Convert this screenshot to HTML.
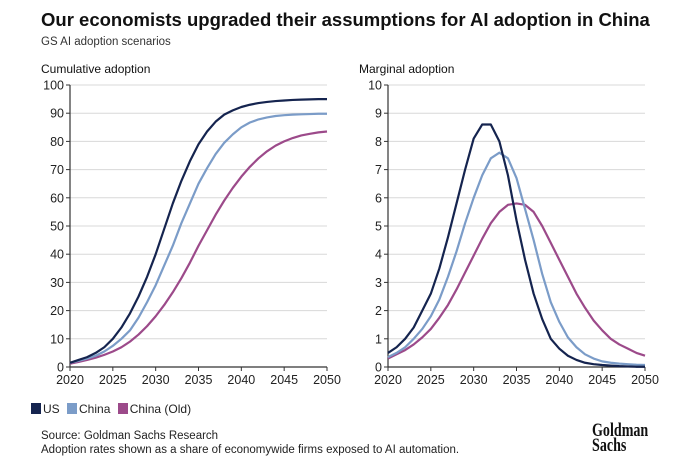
<!DOCTYPE html>
<html><head><meta charset="utf-8">
<style>
body{margin:0;background:#fff;font-family:"Liberation Sans",sans-serif;color:#222;}
#wrap{position:relative;width:700px;height:474px;overflow:hidden;background:#fff;}
.t{position:absolute;white-space:nowrap;}
</style></head><body>
<div id="wrap">
<div class="t" style="left:41px;top:9px;font-size:18.5px;font-weight:bold;color:#111;">Our economists upgraded their assumptions for AI adoption in China</div>
<div class="t" style="left:41px;top:36px;font-size:11.5px;color:#333;">GS AI adoption scenarios</div>
<svg id="svg" width="700" height="474" style="position:absolute;left:0;top:0"></svg>
<div class="t" style="left:31px;top:402px;font-size:12px;color:#222;">
<span><span style="display:inline-block;width:10px;height:11px;background:#15244f;vertical-align:-1px;margin-right:2px"></span>US</span>
<span style="margin-left:4px"><span style="display:inline-block;width:10px;height:11px;background:#7b9cc8;vertical-align:-1px;margin-right:2px"></span>China</span>
<span style="margin-left:4px"><span style="display:inline-block;width:10px;height:11px;background:#9c4a8a;vertical-align:-1px;margin-right:2px"></span>China (Old)</span>
</div>
<div class="t" style="left:41px;top:430px;font-size:11.5px;color:#222;">Source: Goldman Sachs Research</div>
<div class="t" style="left:41px;top:444px;font-size:11.5px;color:#222;">Adoption rates shown as a share of economywide firms exposed to AI automation.</div>
<div class="t" style="left:592px;top:423px;font-family:'Liberation Serif',serif;font-weight:bold;font-size:19px;line-height:15px;color:#111;transform:scaleX(0.74);transform-origin:left top;">Goldman<br>Sachs</div>
</div>
<script>
const years=[2020,2021,2022,2023,2024,2025,2026,2027,2028,2029,2030,2031,2032,2033,2034,2035,2036,2037,2038,2039,2040,2041,2042,2043,2044,2045,2046,2047,2048,2049,2050];
const cumUS=[1.5,2.5,3.5,5,7,10,14,19,25,32,40,49,58,66,73,79,83.5,87,89.5,91,92.2,93,93.6,94,94.3,94.5,94.7,94.8,94.9,95,95];
const cumChina=[1.5,2.2,3,4,5.5,7.5,10,13,17.5,23,29,36,43,51,58,65,70.5,75.5,79.5,82.5,85,86.7,87.8,88.5,89,89.3,89.5,89.6,89.7,89.8,89.8];
const cumChinaOld=[1.2,1.8,2.5,3.3,4.3,5.5,7,9,11.5,14.5,18,22,26.5,31.5,37,43,48.5,54,59,63.5,67.5,71,74,76.5,78.5,80,81.2,82.1,82.7,83.2,83.5];
const margUS=[0.5,0.7,1,1.4,2,2.6,3.5,4.6,5.8,7,8.1,8.6,8.6,8,6.8,5.2,3.8,2.6,1.7,1,0.65,0.4,0.25,0.15,0.1,0.07,0.05,0.03,0.02,0.01,0.01];
const margChina=[0.35,0.5,0.7,1,1.35,1.8,2.4,3.2,4.1,5.1,6,6.8,7.4,7.6,7.4,6.7,5.6,4.5,3.3,2.3,1.6,1.05,0.7,0.45,0.3,0.2,0.15,0.12,0.1,0.08,0.07];
const margChinaOld=[0.3,0.45,0.6,0.8,1.05,1.35,1.75,2.2,2.75,3.35,3.95,4.55,5.1,5.5,5.75,5.8,5.75,5.5,5,4.4,3.8,3.2,2.6,2.1,1.65,1.3,1,0.8,0.65,0.5,0.4];
const xTicks=[2020,2025,2030,2035,2040,2045,2050];
const cumTicks=[0,10,20,30,40,50,60,70,80,90,100];
const margTicks=[0,1,2,3,4,5,6,7,8,9,10];
const colors={us:'#15244f',china:'#7b9cc8',old:'#9c4a8a'};
const NS='http://www.w3.org/2000/svg';
const svg=document.getElementById('svg');
function mk(tag,attrs,parent){const e=document.createElementNS(NS,tag);for(const k in attrs)e.setAttribute(k,attrs[k]);(parent||svg).appendChild(e);return e;}
function panel(id,title,x0,x1,yTop,yBot,ymax,ticks,series){
  const g=mk('g',{});
  
  
  const xs=v=>x0+(v-2020)/30*(x1-x0);
  const ys=v=>yBot-v/ymax*(yBot-yTop);
  const tt=mk('text',{x:x0-29,y:yTop-12,'font-size':12,fill:'#111','font-family':'Liberation Sans, sans-serif'},g);
  tt.textContent=title;
  
  
  ticks.forEach(t=>{
    const y=ys(t);
    if(t>0){const l=mk('line',{x1:x0,x2:x1,y1:y,y2:y,stroke:'#d8d8d8','stroke-width':1},g);
    
    }
    mk('line',{x1:x0-4,x2:x0,y1:y,y2:y,stroke:'#333','stroke-width':1},g);
    const tx=mk('text',{x:x0-6,y:y+4.5,'font-size':12.5,fill:'#222','text-anchor':'end','font-family':'Liberation Sans, sans-serif'},g);
    tx.textContent=t;
    
    
  });
  xTicks.forEach(t=>{
    const x=xs(t);
    mk('line',{x1:x,x2:x,y1:yBot,y2:yBot+4,stroke:'#333','stroke-width':1},g);
    const tx=mk('text',{x:x,y:yBot+17,'font-size':12.5,fill:'#222','text-anchor':'middle','font-family':'Liberation Sans, sans-serif'},g);
    tx.textContent=t;
    
    
  });
  mk('line',{x1:x0,x2:x0,y1:yTop,y2:yBot,stroke:'#333','stroke-width':1.2},g);
  mk('line',{x1:x0,x2:x1,y1:yBot,y2:yBot,stroke:'#333','stroke-width':1.2},g);
  series.forEach(s=>{
    const d=s.vals.map((v,i)=>(i?'L':'M')+xs(years[i]).toFixed(2)+','+ys(v).toFixed(2)).join(' ');
    const p=mk('path',{d:d,fill:'none',stroke:s.c,'stroke-width':2.2,'stroke-linejoin':'round'},g);
    
    
  });
}
panel('cumulative','Cumulative adoption',70,327,85,367,100,cumTicks,[
  {n:'china-old',vals:cumChinaOld,c:colors.old},{n:'china',vals:cumChina,c:colors.china},{n:'us',vals:cumUS,c:colors.us}]);
panel('marginal','Marginal adoption',388,645,85,367,10,margTicks,[
  {n:'china-old',vals:margChinaOld,c:colors.old},{n:'china',vals:margChina,c:colors.china},{n:'us',vals:margUS,c:colors.us}]);
</script>
</body></html>
